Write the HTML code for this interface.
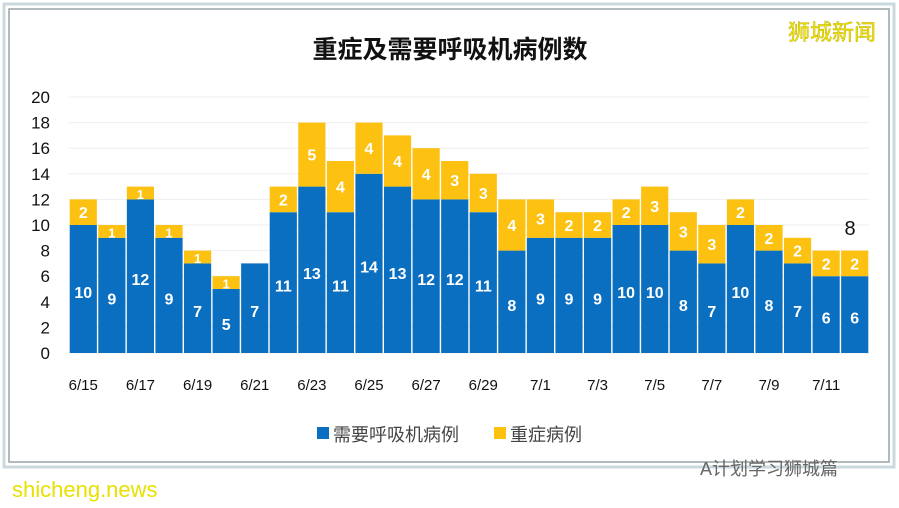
<!DOCTYPE html>
<html><head><meta charset="utf-8"><style>
body{margin:0;background:#fff;}
svg{display:block;font-family:"Liberation Sans","Noto Sans CJK SC",sans-serif;}
</style></head><body>
<svg width="899" height="508" viewBox="0 0 899 508">
<rect x="4" y="4" width="890" height="463" fill="#fff" stroke="#c9d9dd" stroke-width="3"/>
<rect x="9" y="9" width="880" height="453" fill="#fff" stroke="#9aa3a8" stroke-width="1.5"/>
<text x="450" y="58" text-anchor="middle" font-size="25" font-weight="bold" fill="#111">重症及需要呼吸机病例数</text>
<text x="832" y="40" text-anchor="middle" font-size="22" fill="#f2e600" stroke="#b8a800" stroke-width="0.4">狮城新闻</text>
<g id="grid"></g><g id="yaxis"></g><g id="bars"></g><g id="xaxis"></g>
<text x="850" y="235" text-anchor="middle" font-size="20" fill="#111">8</text>
<rect x="317" y="427" width="12" height="12" fill="#0b6fc1"/>
<text x="333" y="441" font-size="18" fill="#444">需要呼吸机病例</text>
<rect x="494" y="427" width="12" height="12" fill="#fcc111"/>
<text x="510" y="441" font-size="18" fill="#444">重症病例</text>
<text x="700" y="475" font-size="18" fill="#666">A计划学习狮城篇</text>
<text x="12" y="497" font-size="22" fill="#e8e000">shicheng.news</text>
</svg>
<script>
const categories=["6/15","6/16","6/17","6/18","6/19","6/20","6/21","6/22","6/23","6/24","6/25","6/26","6/27","6/28","6/29","6/30","7/1","7/2","7/3","7/4","7/5","7/6","7/7","7/8","7/9","7/10","7/11","7/12"];
const ventilator=[10,9,12,9,7,5,7,11,13,11,14,13,12,12,11,8,9,9,9,10,10,8,7,10,8,7,6,6];
const severe=[2,1,1,1,1,1,0,2,5,4,4,4,4,3,3,4,3,2,2,2,3,3,3,2,2,2,2,2];
const yTicks=[0,2,4,6,8,10,12,14,16,18,20];
const NS="http://www.w3.org/2000/svg";
const x0=69,x1=869,y0=353,y1=97,yMax=20;
const band=(x1-x0)/categories.length;
const xs=i=>x0+i*band;
const ys=v=>y0-(v/yMax)*(y0-y1);
function mk(tag,attrs,parent,txt){const e=document.createElementNS(NS,tag);for(const k in attrs)e.setAttribute(k,attrs[k]);if(txt!==undefined)e.textContent=txt;document.getElementById(parent).appendChild(e);return e;}
yTicks.forEach(t=>{
 const l=mk('line',{x1:x0,x2:x1,y1:ys(t),y2:ys(t),stroke:'#eeeeee','stroke-width':1},'grid');
 
 
 const tx=mk('text',{x:50,y:ys(t)+6,'text-anchor':'end','font-size':17,fill:'#111','font-family':'"Liberation Sans Narrow","Liberation Sans",sans-serif'},'yaxis',t);
 
 
});
const lf='"Liberation Sans Narrow","Liberation Sans",sans-serif';
categories.forEach((c,i)=>{
 const bx=xs(i)+0.7,bw=band-1.4;
 const b=mk('rect',{x:bx,y:ys(ventilator[i]),width:bw,height:y0-ys(ventilator[i]),fill:'#0b6fc1'},'bars');
 
 
 const bl=mk('text',{x:xs(i)+band/2,y:(ys(ventilator[i])+y0)/2+9,'text-anchor':'middle','font-size':16,'font-weight':'bold',fill:'#fff','font-family':lf},'bars',ventilator[i]);
 
 
 if(severe[i]>0){
  const top=ventilator[i]+severe[i];
  const s=mk('rect',{x:bx,y:ys(top),width:bw,height:ys(ventilator[i])-ys(top),fill:'#fcc111'},'bars');
  
  
  const sl=mk('text',{x:xs(i)+band/2,y:(ys(top)+ys(ventilator[i]))/2+6,'text-anchor':'middle','font-size':severe[i]>1?16:13,'font-weight':'bold',fill:'#fff','font-family':lf},'bars',severe[i]);
  
  
 }
 if(i%2===0){
  const xl=mk('text',{x:xs(i)+band/2,y:390,'text-anchor':'middle','font-size':15,fill:'#111','font-family':lf},'xaxis',c);
  
  
 }
});
</script>
</body></html>
